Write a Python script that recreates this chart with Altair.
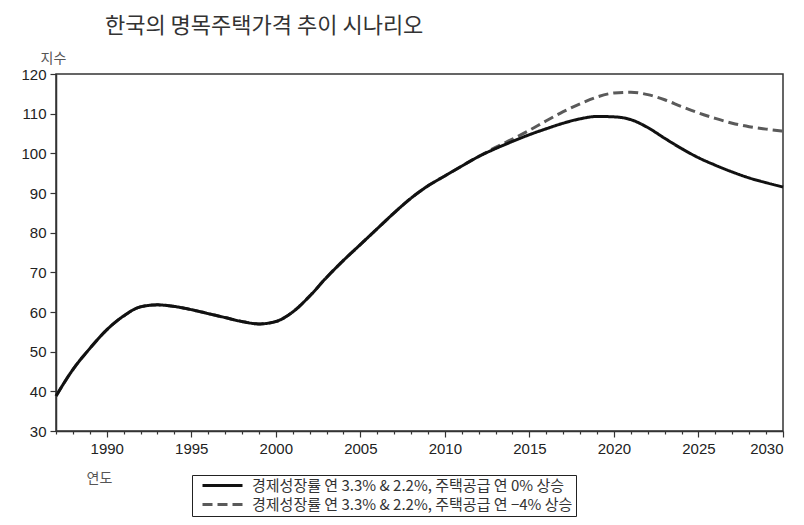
import altair as alt
import pandas as pd

years = list(range(1987, 2031))
base = [38.8, 45.5, 50.8, 55.5, 59.0, 61.3, 61.8, 61.4, 60.6, 59.6,
        58.6, 57.6, 57.0, 57.6, 60.0, 64.0, 68.7, 73.0, 77.0, 81.0,
        85.0, 88.7, 91.8, 94.3, 96.8, 99.2, 101.2, 103.0, 104.7, 106.2,
        107.6, 108.7, 109.3, 109.2, 108.5, 106.5, 103.8, 101.2, 98.9, 97.0,
        95.3, 93.8, 92.6, 91.5]
alt_years = list(range(2013, 2031))
alt_vals = [101.5, 103.6, 105.8, 108.2, 110.5, 112.5, 114.2, 115.2, 115.4, 114.8,
            113.5, 111.8, 110.2, 108.8, 107.6, 106.7, 106.1, 105.6]

s1 = "경제성장률 연 3.3% & 2.2%, 주택공급 연 0% 상승"
s2 = "경제성장률 연 3.3% & 2.2%, 주택공급 연 −4% 상승"

alt_full_years = years[:years.index(2013)] + alt_years
alt_full_vals = base[:years.index(2013)] + alt_vals

df = pd.DataFrame(
    {"year": alt_full_years, "value": alt_full_vals, "series": [s2] * len(alt_full_years)}
)
df = pd.concat([df, pd.DataFrame({"year": years, "value": base, "series": [s1] * len(years)})],
               ignore_index=True)
df["ord"] = df["series"].map({s2: 0, s1: 1})

FONT = "Liberation Sans, Noto Sans CJK KR, sans-serif"
KFONT = "Noto Sans CJK KR"

legend_kw = dict(title=None, orient="none", legendX=136, legendY=401,
                 symbolType="M0,0H8", symbolSize=100, symbolStrokeWidth=3,
                 labelOffset=42, labelFontSize=15, labelFont=KFONT,
                 labelColor="#333", labelLimit=600, rowPadding=3,
                 padding=3, strokeColor="#222", fillColor="white")

chart = alt.Chart(df).mark_line(strokeWidth=3, interpolate="monotone").encode(
    x=alt.X("year:Q",
            scale=alt.Scale(domain=[1987, 2030], nice=False, zero=False),
            axis=alt.Axis(values=list(range(1987, 2031)), format="d",
                          labelExpr="datum.value % 5 === 0 ? datum.label : ''",
                          tickSize={"condition": {"test": "datum.value % 5 === 0", "value": 6}, "value": 3},
                          grid=False, title="연도", titleFont=KFONT, titleFontWeight="normal",
                          titleFontSize=14, titleColor="#555", titleAngle=0,
                          titleAlign="left", titleBaseline="middle", titleX=30, titleY=47,
                          labelPadding=4)),
    y=alt.Y("value:Q",
            scale=alt.Scale(domain=[30, 120], nice=False, zero=False),
            axis=alt.Axis(values=list(range(30, 121, 10)), grid=False, tickSize=6,
                          title="지수", titleFont=KFONT, titleFontWeight="normal",
                          titleFontSize=14, titleColor="#555", titleAngle=0,
                          titleAlign="left", titleBaseline="bottom", titleX=-16, titleY=-9,
                          labelPadding=4)),
    color=alt.Color("series:N",
                    scale=alt.Scale(domain=[s1, s2], range=["#111111", "#5a5a5a"]),
                    legend=alt.Legend(**legend_kw)),
    strokeDash=alt.StrokeDash("series:N",
                              scale=alt.Scale(domain=[s1, s2], range=[[1, 0], [10, 5]]),
                              legend=alt.Legend(**legend_kw)),
    order=alt.Order("ord:Q"),
    detail="series:N",
).properties(
    width=727,
    height=357,
    autosize=alt.AutoSizeParams(type="none"),
    padding={"left": 48, "top": 66, "right": 13, "bottom": 86},
    title=alt.TitleParams("한국의 명목주택가격 추이 시나리오", anchor="start", dx=84,
                          offset=13, font=KFONT, fontSize=22, fontWeight="normal",
                          color="#333"),
).configure_axis(
    labelFont=FONT, labelFontSize=15, labelColor="#222",
    domainColor="#333", domainWidth=1.5, tickColor="#333", tickWidth=1.2,
).configure_view(
    stroke="#333", strokeWidth=1.5,
)

chart.save("out.html", embed_options={"renderer": "svg", "actions": False})
